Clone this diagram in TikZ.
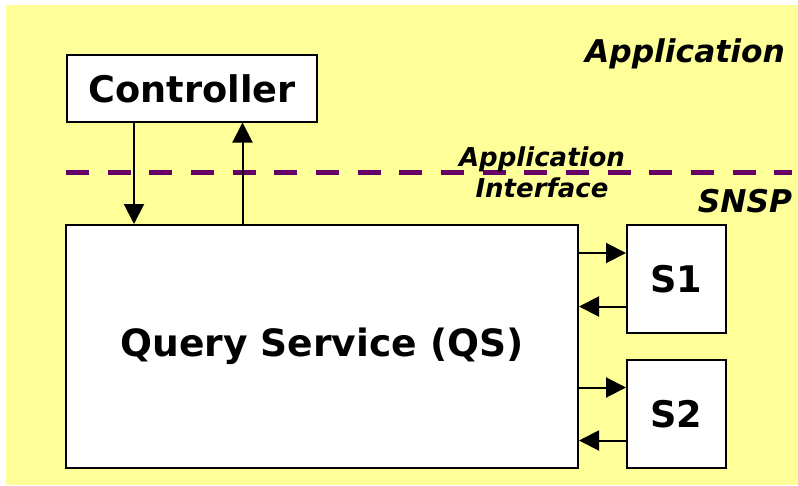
\documentclass[tikz,border=0pt]{standalone}
\usepackage{fontspec}
\setmainfont{DejaVu Sans}
\usetikzlibrary{arrows.meta}
\definecolor{bgyellow}{HTML}{FFFF99}
\definecolor{ifacepurple}{HTML}{660066}
\tikzset{
  box/.style={draw=black, fill=white, line width=1.5pt, inner sep=0pt,
              font=\fontsize{27.5}{33}\selectfont\bfseries},
  flow/.style={line width=1.5pt, -{Triangle[length=15pt,width=15pt]}},
  layerlabel/.style={font=\fontsize{23.5}{28}\selectfont\bfseries\itshape, anchor=base},
  ifacelabel/.style={font=\fontsize{19.5}{23.5}\selectfont\bfseries\itshape, align=center}
}
\begin{document}
\begin{tikzpicture}[x=0.75pt, y=-0.75pt]
  \useasboundingbox (0,0) rectangle (798,485);
  % application area
  \fill[bgyellow] (6,5) rectangle (798,485);

  % boxes
  \node[box, minimum width=187.5pt, minimum height=49.5pt] (ctrl) at (192,88.5) {Controller};
  \node[box, minimum width=384pt, minimum height=182.25pt,
        font=\fontsize{28.2}{33}\selectfont\bfseries] (qs) at (322,346.5) {Query Service (QS)};
  \node[box, minimum width=74.25pt, minimum height=80.6pt] (s1) at (676.5,279) {S1};
  \node[box, minimum width=74.25pt, minimum height=80.6pt] (s2) at (676.5,414) {S2};

  % interface boundary
  \coordinate (lineL) at (66,172);
  \coordinate (lineR) at (792,172);
  \draw[ifacepurple, line width=3.75pt, dash pattern=on 17.25pt off 14pt] (lineL) -- (lineR);

  % layer labels
  \node[layerlabel] (app) at (685,62) {Application};
  \node[layerlabel] (snsp) at (745,212) {SNSP};
  \node[ifacelabel] (iface) at (542,172) {Application\\Interface};

  % controller <-> query service
  \coordinate (dn) at (134,0);
  \coordinate (up) at (242.5,0);
  \draw[flow] (ctrl.south -| dn) -- (qs.north -| dn);
  \draw[flow] (qs.north -| up) -- (ctrl.south -| up);

  % query service <-> sources
  \coordinate (s1out) at (0,253);
  \coordinate (s1in) at (0,306.5);
  \coordinate (s2out) at (0,387.5);
  \coordinate (s2in) at (0,440.5);
  \draw[flow] (qs.east |- s1out) -- (s1.west |- s1out);
  \draw[flow] (s1.west |- s1in) -- (qs.east |- s1in);
  \draw[flow] (qs.east |- s2out) -- (s2.west |- s2out);
  \draw[flow] (s2.west |- s2in) -- (qs.east |- s2in);
\end{tikzpicture}
\end{document}
